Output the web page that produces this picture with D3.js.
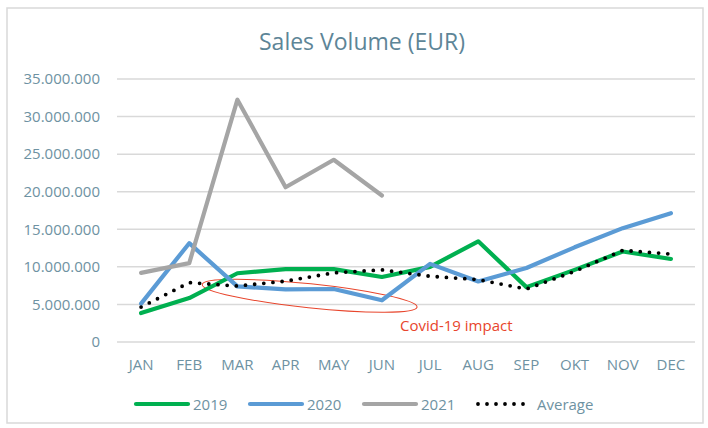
<!DOCTYPE html>
<html>
<head>
<meta charset="utf-8">
<script src="https://cdn.jsdelivr.net/npm/d3@7"></script>
<style>
  body { margin: 0; background: #fff; }
  svg text { font-family: "Open Sans", sans-serif; }
</style>
</head>
<body>
<div id="chart"></div>
<script>
const months = ["JAN", "FEB", "MAR", "APR", "MAY", "JUN", "JUL", "AUG", "SEP", "OKT", "NOV", "DEC"];
const sales2019 = [3.85, 5.85, 9.15, 9.7, 9.7, 8.65, 10.0, 13.4, 7.3, 9.6, 12.05, 11.05].map(v => v * 1e6);
const sales2020 = [5.1, 13.15, 7.4, 7.0, 7.05, 5.55, 10.4, 8.05, 9.85, 12.6, 15.15, 17.15].map(v => v * 1e6);
const sales2021 = [9.2, 10.5, 32.25, 20.6, 24.25, 19.5].map(v => v * 1e6);
const salesAvg = [4.65, 7.9, 7.45, 8.1, 9.2, 9.6, 8.75, 8.3, 7.05, 9.4, 12.2, 11.7].map(v => v * 1e6);
const yTicks = [0, 5e6, 10e6, 15e6, 20e6, 25e6, 30e6, 35e6];

const series = [
  { name: "2019", values: sales2019, color: "#00B050" },
  { name: "2020", values: sales2020, color: "#5B9BD5" },
  { name: "2021", values: sales2021, color: "#A5A5A5" },
  { name: "Average", values: salesAvg, color: "#000", dotted: true }
];

const width = 708, height = 428;
const margin = { top: 79, right: 13, bottom: 86, left: 117 };
const textColor = "#6E92A2";

const svg = d3.select("#chart")
  .append("svg")
  .attr("width", width)
  .attr("height", height);

// chart border
svg.append("rect")
  .attr("x", 7).attr("y", 8)
  .attr("width", 696).attr("height", 415)
  .attr("fill", "#fff")
  .attr("stroke", "#D9D9D9")
  .attr("stroke-width", 1.5);

svg.append("text")
  .attr("x", 362)
  .attr("y", 50)
  .attr("text-anchor", "middle")
  .attr("fill", "#5D8597")
  .style("font-size", "23px")
  .text("Sales Volume (EUR)");

const x = d3.scaleBand()
  .domain(months)
  .range([margin.left, width - margin.right]);

const y = d3.scaleLinear()
  .domain([0, 35e6])
  .range([height - margin.bottom, margin.top]);

const fmt = d3.formatLocale({ decimal: ",", thousands: ".", grouping: [3], currency: ["", "€"] }).format(",");

// gridlines
svg.append("g")
  .selectAll("line")
  .data(yTicks)
  .enter()
  .append("line")
  .attr("x1", margin.left)
  .attr("x2", width - margin.right)
  .attr("y1", d => y(d))
  .attr("y2", d => y(d))
  .attr("stroke", "#D9D9D9")
  .attr("stroke-width", 1.5);

const yAxis = svg.append("g")
  .attr("transform", `translate(${margin.left - 14},0)`)
  .call(d3.axisLeft(y).tickValues(yTicks).tickFormat(fmt).tickSize(0));
yAxis.select(".domain").remove();
yAxis.selectAll("text")
  .attr("fill", textColor)
  .style("font-size", "15px");

const xAxis = svg.append("g")
  .attr("transform", `translate(0,${height - margin.bottom + 14})`)
  .call(d3.axisBottom(x).tickSize(0));
xAxis.select(".domain").remove();
xAxis.selectAll("text")
  .attr("fill", textColor)
  .style("font-size", "15px");

// Covid annotation
const ellipseCx = x("APR") + x.bandwidth() * 1.0;
const ellipseCy = y(6.15e6);
svg.append("ellipse")
  .attr("cx", ellipseCx)
  .attr("cy", ellipseCy)
  .attr("rx", 108)
  .attr("ry", 12)
  .attr("transform", `rotate(6,${ellipseCx},${ellipseCy})`)
  .attr("fill", "none")
  .attr("stroke", "#E8452C")
  .attr("stroke-width", 1);

svg.append("text")
  .attr("x", x("JUL") - 6)
  .attr("y", y(1.5e6))
  .attr("fill", "#E8452C")
  .style("font-size", "15px")
  .text("Covid-19 impact");

const line = d3.line()
  .x((d, i) => x(months[i]) + x.bandwidth() / 2)
  .y(d => y(d));

series.forEach(s => {
  const path = svg.append("path")
    .datum(s.values)
    .attr("d", line)
    .attr("fill", "none")
    .attr("stroke", s.color)
    .attr("stroke-linejoin", "round")
    .attr("stroke-linecap", "round");
  if (s.dotted) {
    path.attr("stroke-width", 3.8).attr("stroke-dasharray", "0 9.2");
  } else {
    path.attr("stroke-width", 4.2);
  }
});

// Legend
const legendX = [136, 250, 364, 478];
const legend = svg.append("g").attr("transform", "translate(0,404)");
series.forEach((s, i) => {
  const g = legend.append("g").attr("transform", `translate(${legendX[i]},0)`);
  g.append("line")
    .attr("x1", 0).attr("x2", s.dotted ? 46 : 52)
    .attr("stroke", s.color)
    .attr("stroke-linecap", "round")
    .attr("stroke-width", s.dotted ? 3.8 : 4.2)
    .attr("stroke-dasharray", s.dotted ? "0 9" : null);
  g.append("text")
    .attr("x", s.dotted ? 59 : 57)
    .attr("y", 5.5)
    .attr("fill", textColor)
    .style("font-size", "15px")
    .text(s.name);
});
</script>
</body>
</html>
